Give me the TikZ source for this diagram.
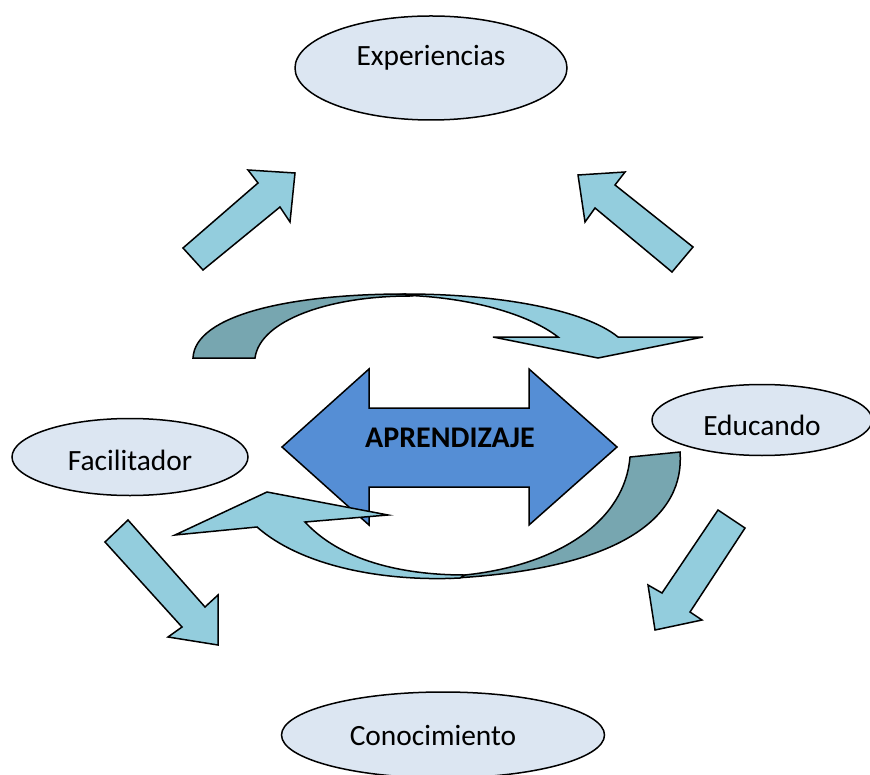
\documentclass[tikz,border=0pt]{standalone}
\usepackage{fontspec}
\setmainfont{Carlito}
\usetikzlibrary{shapes.geometric}
\definecolor{bubblefill}{HTML}{DCE6F2}
\definecolor{arrowlight}{HTML}{93CDDD}
\definecolor{arrowdark}{HTML}{77A6B0}
\definecolor{centerblue}{HTML}{558ED5}

\begin{document}
\begin{tikzpicture}[x=0.5pt,y=-0.5pt,
    bubble/.style={ellipse, draw, line width=0.75pt, fill=bubblefill, inner sep=0pt},
    bubbletext/.style={font=\fontsize{14.7}{17}\selectfont},
    blockarrow/.style={draw, line width=0.75pt, fill=arrowlight, line join=miter},
    twist/.style={draw, line width=0.75pt, fill=arrowdark}]
    \useasboundingbox (0,0) rectangle (870,774);

    % Straight arrows
    \draw[blockarrow] (183,248) -- (258,183) -- (248,170) -- (295,173) -- (290,222) -- (280,207) -- (203,270) -- cycle;
    \draw[blockarrow] (578,175) -- (625,172) -- (615,185) -- (693,247) -- (672,272) -- (595,208) -- (585,222) -- cycle;
    \draw[blockarrow] (105,542) -- (128,520) -- (205,607) -- (218,595) -- (218,645) -- (168,637) -- (182,627) -- cycle;
    \draw[blockarrow] (718,510) -- (745,528) -- (690,612) -- (702,620) -- (655,630) -- (648,585) -- (662,593) -- cycle;

    % Ellipses
    \node[bubble, minimum width=136pt, minimum height=52pt] (exp) at (431,68) {};
    \node[bubbletext] (expText) at ([yshift=5pt]exp.center) {Experiencias};
    \node[bubble, minimum width=110pt, minimum height=35.5pt] (edu) at (762,420) {};
    \node[bubbletext] (eduText) at ([yshift=-2.5pt]edu.center) {Educando};
    \node[bubble, minimum width=118pt, minimum height=38.5pt] (fac) at (130,457) {};
    \node[bubbletext] (facText) at ([yshift=-1.5pt]fac.center) {Facilitador};
    \node[bubble, minimum width=161.5pt, minimum height=43pt] (con) at (443,735) {};
    \node[bubbletext] (conText) at ([xshift=-5pt]con.center) {Conocimiento};

    % Upper curved arrow
    \draw[blockarrow] (405,294) .. controls (500,294) and (585,310) .. (618,337)
        -- (703,337) -- (598,358) -- (493,337) -- (558,337)
        .. controls (530,315) and (470,296) .. (395,295) -- cycle;
    \draw[twist] (193,358) .. controls (195,315) and (290,294) .. (405,294)
        -- (410,296) .. controls (330,296) and (260,320) .. (255,358) -- cycle;

    % Central double arrow
    \draw[line width=0.75pt, fill=centerblue] (282,447) -- (369,369) -- (369,408) -- (529,408) -- (529,369)
        -- (617,447) -- (529,525) -- (529,487) -- (369,487) -- (369,525) -- cycle;
    \node[font=\fontsize{15}{18}\selectfont\bfseries] (learn) at (450,438) {APRENDIZAJE};

    % Lower curved arrow
    \draw[twist] (455,578) .. controls (625,568) and (685,515) .. (680,452)
        -- (630,457) .. controls (625,520) and (560,565) .. (465,575) -- cycle;
    \draw[blockarrow] (175,535) -- (267,492) -- (388,515) -- (305,522)
        .. controls (340,560) and (400,575) .. (465,575)
        -- (460,578) .. controls (380,582) and (300,565) .. (257,527) -- cycle;
\end{tikzpicture}
\end{document}
